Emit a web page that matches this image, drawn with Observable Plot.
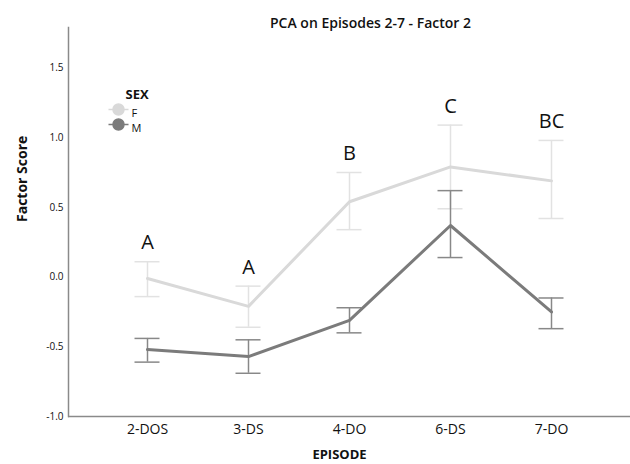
<!DOCTYPE html>
<html><head><meta charset="utf-8">
<script src="https://cdn.jsdelivr.net/npm/d3@7"></script>
<script src="https://cdn.jsdelivr.net/npm/@observablehq/plot@0.6"></script>
<style>body{margin:0;background:#fff;} #chart{width:630px;height:464px;}</style>
</head><body><div id="chart"></div>
<script>
const episodes = ["2-DOS", "3-DS", "4-DO", "6-DS", "7-DO"];
const sexes = ["F", "M"];
const fMean = [-0.01, -0.21, 0.54, 0.79, 0.69];
const fLow  = [-0.14, -0.36, 0.34, 0.49, 0.42];
const fHigh = [0.11, -0.065, 0.75, 1.09, 0.98];
const mMean = [-0.52, -0.57, -0.31, 0.37, -0.25];
const mLow  = [-0.61, -0.69, -0.40, 0.14, -0.37];
const mHigh = [-0.44, -0.45, -0.22, 0.62, -0.15];
const letters = ["A", "A", "B", "C", "BC"];
const yTicks = [-1.0, -0.5, 0.0, 0.5, 1.0, 1.5];

const lineColor = {F: "#d9d9d9", M: "#7b7b7b"};
const barColor = {F: "#e2e2e2", M: "#888888"};

function rowsFor(sex, mean, low, high) {
  return episodes.map((e, i) => ({sex, episode: e, mean: mean[i], low: low[i], high: high[i], letter: letters[i]}));
}
const fRows = rowsFor("F", fMean, fLow, fHigh);
const mRows = rowsFor("M", mMean, mLow, mHigh);

function seriesMarks(rows) {
  const sex = rows[0].sex;
  return [
    Plot.ruleX(rows, {x: "episode", y1: "low", y2: "high", stroke: barColor[sex], strokeWidth: 1.5}),
    Plot.ruleY(rows, {x1: "episode", x2: "episode", y: "high", insetLeft: -12.5, insetRight: -12.5, stroke: barColor[sex], strokeWidth: 1.5}),
    Plot.ruleY(rows, {x1: "episode", x2: "episode", y: "low", insetLeft: -12.5, insetRight: -12.5, stroke: barColor[sex], strokeWidth: 1.5}),
    Plot.line(rows, {x: "episode", y: "mean", stroke: lineColor[sex], strokeWidth: 3})
  ];
}

const lineCircle = {
  draw(ctx, size) {
    const r = Math.sqrt(size / Math.PI);
    ctx.moveTo(-10, 0); ctx.lineTo(-r, 0);
    ctx.moveTo(r, 0); ctx.lineTo(10, 0);
    ctx.moveTo(r, 0); ctx.arc(0, 0, r, 0, 2 * Math.PI);
  }
};

const legendMarks = sexes.flatMap((s, i) => [
  Plot.dot([s], {frameAnchor: "top-left", dx: 50, dy: 82 + 15 * i, r: 5.5, symbol: lineCircle, fill: lineColor[s], stroke: lineColor[s], strokeWidth: 1.5}),
  Plot.text([s], {text: d => d, frameAnchor: "top-left", dx: 63, dy: 82 + 15 * i, textAnchor: "start", fontSize: 11, fill: "#111"})
]);

const chart = Plot.plot({
  width: 630,
  height: 464,
  marginLeft: 68,
  marginRight: 0,
  marginTop: 27,
  marginBottom: 48,
  style: {fontFamily: "Open Sans", fontSize: "10px", background: "#fff", color: "#111"},
  x: {type: "point", domain: episodes, padding: 0.77},
  y: {domain: [-1.0, 1.79]},
  marks: [
    Plot.axisY({ticks: yTicks, tickFormat: d => d.toFixed(1), tickSize: 0, tickPadding: 5, label: null, fontSize: 10}),
    Plot.axisX({tickSize: 0, tickPadding: 8, label: null, fontSize: 14}),
    Plot.frame({anchor: "left", stroke: "#8a8a8a", strokeWidth: 1.5}),
    Plot.ruleY([-1.0], {stroke: "#8a8a8a", strokeWidth: 1.5}),
    ...seriesMarks(fRows),
    ...seriesMarks(mRows),
    Plot.text(fRows, {x: "episode", y: "high", text: "letter", dy: -19, fontSize: 20, fill: "#111"}),
    Plot.text(["PCA on Episodes 2-7 - Factor 2"], {text: d => d, frameAnchor: "top", dx: 21, dy: -9, fontSize: 14, fontWeight: 600, fill: "#111"}),
    Plot.text(["Factor Score"], {text: d => d, frameAnchor: "left", dx: -46, rotate: -90, fontSize: 14, fontWeight: "bold", fill: "#111"}),
    Plot.text(["EPISODE"], {text: d => d, frameAnchor: "bottom", dx: -10, dy: 42, fontSize: 13, fontWeight: "bold", fill: "#111"}),
    Plot.text(["SEX"], {text: d => d, frameAnchor: "top-left", dx: 57, dy: 62, fontSize: 13, fontWeight: "bold", fill: "#111"}),
    ...legendMarks
  ]
});
document.getElementById("chart").appendChild(chart);
</script>
</body></html>
